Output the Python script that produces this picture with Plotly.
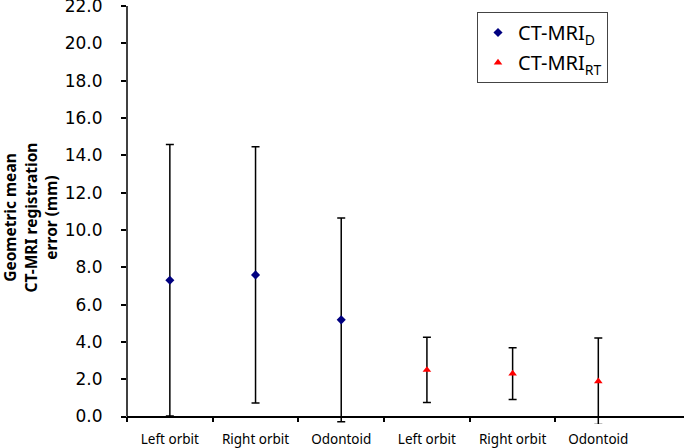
import plotly.graph_objects as go

categories = ["Left orbit", "Right orbit", "Odontoid", "Left orbit", "Right orbit", "Odontoid"]
ct_mri_d_mean = [7.30, 7.59, 5.18]
ct_mri_d_sd = [7.27, 6.87, 5.46]
ct_mri_rt_mean = [2.50, 2.30, 1.89]
ct_mri_rt_sd = [1.75, 1.39, 2.32]
y_ticks = [0, 2, 4, 6, 8, 10, 12, 14, 16, 18, 20, 22]

x_d = [0, 1, 2]
x_rt = [3, 4, 5]

fig = go.Figure()
fig.add_trace(go.Scatter(
    x=x_d, y=ct_mri_d_mean, mode="markers", name="CT-MRI<sub>D</sub>",
    legendgroup="d",
    marker=dict(symbol="diamond", color="#000080", size=7),
    error_y=dict(type="data", array=ct_mri_d_sd, color="black", thickness=1.5, width=4),
))
fig.add_trace(go.Scatter(
    x=x_rt, y=ct_mri_rt_mean, mode="markers", name="CT-MRI<sub>RT</sub>",
    legendgroup="rt",
    marker=dict(symbol="triangle-up", color="#ff0000", size=7.5),
    error_y=dict(type="data", array=ct_mri_rt_sd, color="black", thickness=1.5, width=4),
))

ymin, ymax = -0.4, 22.05
fig.update_layout(
    width=685, height=448,
    margin=dict(l=127, r=1, t=5, b=24, autoexpand=False),
    plot_bgcolor="white", paper_bgcolor="white",
    showlegend=True,
    legend=dict(
        x=(477 - 127) / 557, y=(423 - 12) / 418, xanchor="left", yanchor="top",
        bordercolor="#444444", borderwidth=1, bgcolor="white",
        font=dict(family="Noto Sans", size=20, color="black"),
        itemwidth=30, traceorder="grouped", tracegroupgap=1,
    ),
    xaxis=dict(
        range=[-0.5, 6.0], automargin=False,
        tickmode="array", tickvals=list(range(len(categories))), ticktext=categories,
        ticks="", showgrid=False, zeroline=False,
        showline=True, linecolor="black", linewidth=1.5,
        anchor="free", position=(0 - ymin) / (ymax - ymin),
        tickfont=dict(family="Noto Sans", size=13.5, color="black"),
        ticklabelstandoff=11, ticklabeloverflow="allow",
        minor=dict(tickmode="array",
                   tickvals=[i - 0.5 for i in range(len(categories))],
                   ticks="outside", ticklen=5, tickcolor="black", tickwidth=1.5,
                   showgrid=False),
    ),
    yaxis=dict(
        range=[ymin, ymax], automargin=False,
        tickmode="array", tickvals=y_ticks, tickformat=".1f",
        ticks="outside", ticklen=5, tickcolor="black", tickwidth=1.5,
        showgrid=False, zeroline=False, showline=False,
        ticklabelstandoff=15, ticklabeloverflow="allow",
        tickfont=dict(family="DejaVu Sans", size=17, color="black"),
    ),
    shapes=[dict(type="line", xref="paper", yref="y", x0=0, x1=0, y0=0, y1=22,
                 line=dict(color="black", width=1.5))],
    annotations=[dict(
        text="<b>Geometric mean<br>CT-MRI registration<br>error (mm)</b>",
        xref="paper", yref="paper", x=(30 - 127) / 557, y=(423 - 217) / 418,
        xanchor="center", yanchor="middle", textangle=-90, showarrow=False,
        font=dict(family="Noto Sans", size=15.5, color="black"),
    )],
)

fig.write_html("out.html", post_script="document.body.style.margin='0';",
               config={"displayModeBar": False})
